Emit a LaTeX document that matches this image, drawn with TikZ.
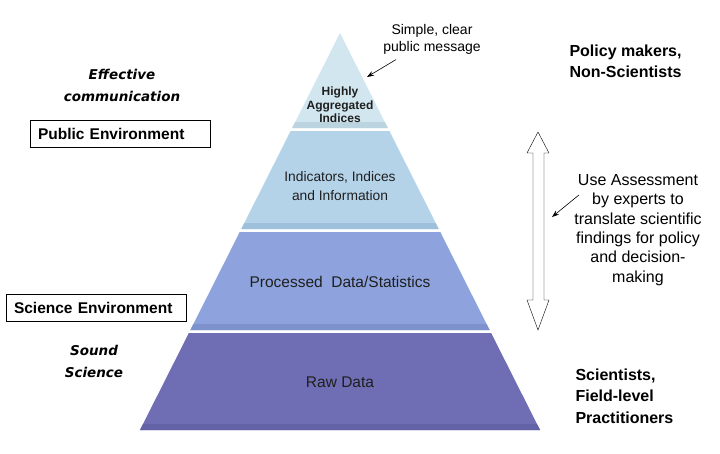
\documentclass[tikz,border=0pt]{standalone}
\usepackage{fontspec}
\setmainfont{Liberation Sans}
\newfontfamily\handfont{DejaVu Sans}
\usetikzlibrary{arrows.meta}

\definecolor{tierA}{HTML}{D2E6EF}
\definecolor{tierAedge}{HTML}{BCD4E0}
\definecolor{tierB}{HTML}{B4D3E9}
\definecolor{tierBedge}{HTML}{9FC0DA}
\definecolor{tierC}{HTML}{8EA3DD}
\definecolor{tierCedge}{HTML}{7D92CC}
\definecolor{tierD}{HTML}{6F6DB3}
\definecolor{tierDedge}{HTML}{6462A6}

\tikzstyle{level}=[align=center,text=black!88]
\tikzstyle{envbox}=[draw=black,thin,font=\bfseries\fontsize{15.5}{18}\selectfont,
  text width=164pt,align=left,inner xsep=8pt,minimum height=27pt]
\tikzstyle{slogan}=[align=center,font=\handfont\bfseries\itshape\fontsize{13.5}{22}\selectfont]
\tikzstyle{group}=[align=left,anchor=west,font=\bfseries\fontsize{16}{21.5}\selectfont]
\tikzstyle{note}=[align=center,font=\fontsize{16}{19.3}\selectfont]
\tikzstyle{pointer}=[-{Stealth[length=7pt,width=5pt]},semithick]

\begin{document}
\begin{tikzpicture}[x=1pt,y=-1pt]
\useasboundingbox (0,0) rectangle (720,453);

% pyramid, top tier first (half width grows 0.5038 per unit down)
\foreach \ya/\yb/\cmain/\cedge in {33/128/tierA/tierAedge,131/229/tierB/tierBedge,
  232/330/tierC/tierCedge,333/430/tierD/tierDedge}
{
  \fill[\cmain]
    ({340-0.5038*(\ya-33)},\ya) -- ({340+0.5038*(\ya-33)},\ya) --
    ({340+0.5038*(\yb-33)},\yb) -- ({340-0.5038*(\yb-33)},\yb) -- cycle;
  % darker bevel at the foot of each tier
  \fill[\cedge]
    ({340-0.5038*(\yb-39)},\yb-6) -- ({340+0.5038*(\yb-39)},\yb-6) --
    ({340+0.5038*(\yb-33)},\yb) -- ({340-0.5038*(\yb-33)},\yb) -- cycle;
}

\node[level,font=\bfseries\fontsize{12}{13.5}\selectfont] (aggregated) at (340,105) {Highly\\Aggregated\\Indices};
\node[level,font=\fontsize{13.8}{19}\selectfont] (indicators) at (340,186) {Indicators, Indices\\and Information};
\node[level,font=\fontsize{15.5}{18}\selectfont] (processed) at (340,282) {Processed\ \ Data/Statistics};
\node[level,font=\fontsize{15.5}{18}\selectfont] (raw) at (340,382) {Raw Data};

% left side
\node[slogan] (effective) at (122,85) {Effective\\communication};
\node[envbox] (public) at (120,133.5) {Public Environment};
\node[envbox] (science) at (96,308) {Science Environment};
\node[slogan] (sound) at (94,361) {Sound\\Science};

% right side
\node[group] (policy) at (566,61.5) {Policy makers,\\Non-Scientists};
\node[group] (scientists) at (572,396) {Scientists,\\Field-level\\Practitioners};

% up and down arrow
\draw[black,fill=white] (538,132) -- (549,153) -- (544,153) -- (544,300) -- (549,300) --
  (538,330) -- (527,300) -- (533,300) -- (533,153) -- (527,153) -- cycle;
\coordinate (shaftside) at (552,217);

\node[note] (assessment) at (638,230) {Use Assessment\\by experts to\\translate scientific\\findings for policy\\and decision-\\making};
\draw[pointer] ([shift={(8pt,35pt)}]assessment.west) -- (shaftside);

\node[note,font=\fontsize{14}{17}\selectfont] (message) at (432,39) {Simple, clear\\public message};
\coordinate (apexside) at (367,77);
\draw[pointer] ([shift={(-36pt,-2pt)}]message.south) -- (apexside);
\end{tikzpicture}
\end{document}
